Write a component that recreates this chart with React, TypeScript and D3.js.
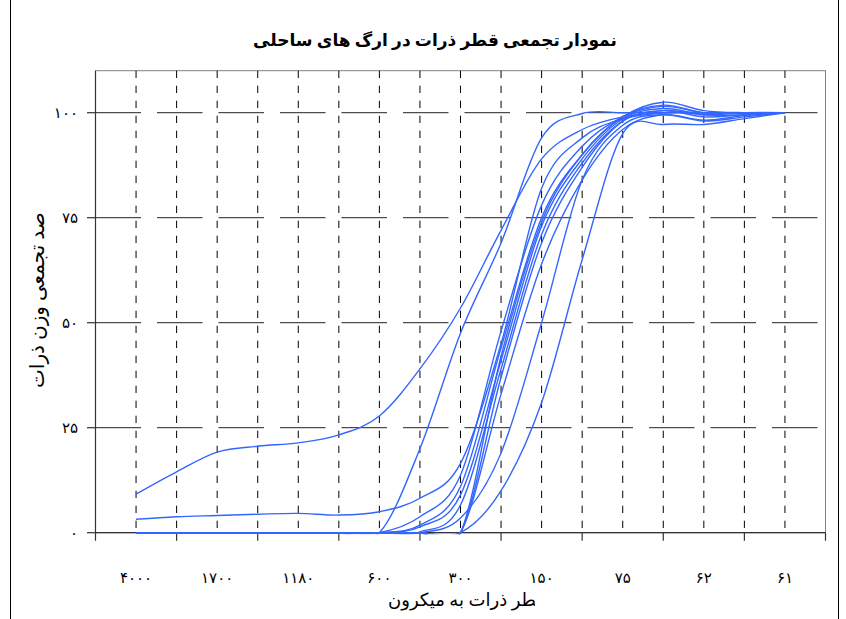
import React from 'react';
import * as d3 from 'd3';

// Category axis (sieve sizes, microns). Only every second label is shown in the chart.
const categories: string[] = ['۴۰۰۰', '', '۱۷۰۰', '', '۱۱۸۰', '', '۶۰۰', '', '۳۰۰', '', '۱۵۰', '', '۷۵', '', '۶۲', '', '۶۱'];
const yTickValues: number[] = [0, 25, 50, 75, 100];
const yTickLabels: string[] = ['۰', '۲۵', '۵۰', '۷۵', '۱۰۰'];

const title = 'نمودار تجمعی قطر ذرات در ارگ های ساحلی';
const xTitle = 'قطر ذرات به میکرون';
const yTitle = 'درصد تجمعی وزن ذرات';

// Cumulative weight percent per sample (one value per category)
const sampleA = [9.2, 14.5, 19.2, 20.6, 21.4, 23.3, 27.8, 39, 53.5, 72, 89, 96, 99, 100, 100, 100, 100];
const sampleB = [0, 0, 0, 0, 0, 0, 0, 20, 47.5, 69, 94, 99.8, 100, 100, 100, 100, 100];
const sampleC = [3.2, 3.8, 4.1, 4.4, 4.6, 4.2, 5, 8.2, 16.5, 45, 82, 94, 98.5, 100, 100, 100, 100];
const sampleD = [0, 0, 0, 0, 0, 0, 0, 3.8, 13.7, 48, 78, 92, 99, 101.5, 100, 100, 100];
const sampleE = [0, 0, 0, 0, 0, 0, 0, 1.8, 11, 44, 75, 90, 99, 102.5, 100.5, 100, 100];
const sampleF = [0, 0, 0, 0, 0, 0, 0, 1.4, 9, 41, 73, 89, 98.5, 101, 99.5, 99.5, 100];
const sampleG = [0, 0, 0, 0, 0, 0, 0, 0.2, 6.6, 39, 71, 88, 98, 100.5, 99, 99.5, 100];
const sampleH = [0, 0, 0, 0, 0, 0, 0, 0, 0, 42, 74, 90, 99, 101.8, 100, 100, 100];
const sampleI = [0, 0, 0, 0, 0, 0, 0, 0, 0, 37, 69, 87, 98, 100.5, 99.5, 100, 100];
const sampleJ = [0, 0, 0, 0, 0, 0, 0, 0, 0, 33, 64, 84, 96, 99.5, 98.2, 99.3, 100];
const sampleY = [0, 0, 0, 0, 0, 0, 0, 0, 3.5, 19, 50, 84, 97, 99.5, 98, 99, 100];
const sampleZ = [0, 0, 0, 0, 0, 0, 0, 0, 0, 10, 31, 65, 95, 97.2, 97.2, 98.6, 100];

const series = [sampleA, sampleB, sampleC, sampleD, sampleE, sampleF, sampleG, sampleH, sampleI, sampleJ, sampleY, sampleZ];

const W = 846;
const H = 619;
const PL = 95.5, PR = 825.5, PT = 70.7, PB = 532.7;
const FONT = "'Times New Roman', 'Liberation Serif', 'DejaVu Sans', serif";
const BLUE = '#3366FF';

export default function App() {
  const x = d3.scaleLinear().domain([0, categories.length + 1]).range([PL, PR]);
  const y = d3.scaleLinear().domain([0, 110]).range([PB, PT]);
  const line = d3
    .line<number>()
    .x((_, i) => x(i + 1))
    .y((v) => y(v))
    .curve(d3.curveCardinal.tension(0));

  const catIdx = categories.map((_, i) => i + 1);
  const majorTicks = d3.range(0, categories.length + 2, 2);

  return (
    <svg
      width={W}
      height={H}
      style={{ position: 'absolute', left: 0, top: 0, background: '#fff' }}
      fontFamily={FONT}
    >
      <defs>
        <clipPath id="plotClip">
          <rect x={PL} y={PT} width={PR - PL} height={PB - PT + 1.5} />
        </clipPath>
        <clipPath id="yTitleClip">
          <rect x={0} y={213} width={90} height={400} />
        </clipPath>
        <clipPath id="xTitleClip">
          <rect x={300} y={585} width={235} height={34} />
        </clipPath>
      </defs>
      <rect x={0} y={0} width={W} height={H} fill="#fff" />
      {/* chart area border */}
      <line x1={10.5} y1={0} x2={10.5} y2={H} stroke="#000" strokeWidth={1} />
      <line x1={838.5} y1={0} x2={838.5} y2={H} stroke="#000" strokeWidth={1} />

      <text x={435} y={46} textAnchor="middle" fontSize={17} fontWeight="bold" fill="#000">
        {title}
      </text>

      {/* plot area border */}
      <rect x={PL} y={PT} width={PR - PL} height={PB - PT} fill="none" stroke="#808080" strokeWidth={1} />

      {/* horizontal gridlines */}
      {yTickValues.filter((v) => v > 0).map((v) => (
        <line key={'h' + v} x1={PL} x2={PR} y1={y(v)} y2={y(v)} stroke="#222" strokeWidth={1} strokeDasharray="45.5 16" />
      ))}
      {/* vertical gridlines */}
      {catIdx.map((k) => (
        <line key={'v' + k} x1={x(k)} x2={x(k)} y1={PT} y2={PB} stroke="#000" strokeWidth={1} strokeDasharray="7.3 7.7" />
      ))}

      {/* axes */}
      <line x1={PL} x2={PL} y1={PT} y2={PB} stroke="#333" strokeWidth={1.2} />
      <line x1={PL} x2={PR} y1={PB} y2={PB} stroke="#333" strokeWidth={1.2} />
      {yTickValues.map((v, i) => (
        <g key={'yt' + v}>
          <line x1={PL - 8.5} x2={PL} y1={y(v)} y2={y(v)} stroke="#333" strokeWidth={1.2} />
          <text x={78} y={y(v)} dy="0.35em" textAnchor="end" fontSize={15} fill="#000">
            {yTickLabels[i]}
          </text>
        </g>
      ))}
      {majorTicks.map((t) => (
        <line key={'xt' + t} x1={x(t)} x2={x(t)} y1={PB} y2={PB + 8} stroke="#333" strokeWidth={1.2} />
      ))}
      {categories.map((c, i) =>
        c ? (
          <text key={'xl' + i} x={x(i + 1)} y={583} textAnchor="middle" fontSize={15} fill="#000">
            {c}
          </text>
        ) : null
      )}

      {/* series */}
      <g clipPath="url(#plotClip)">
        {series.map((s, i) => (
          <path key={'s' + i} d={line(s) || ''} fill="none" stroke={BLUE} strokeWidth={1.4} />
        ))}
      </g>

      {/* axis titles */}
      <g clipPath="url(#yTitleClip)">
        <text transform="translate(44,388) rotate(-90)" textAnchor="start" fontSize={20} fill="#000">
          {yTitle}
        </text>
      </g>
      <g clipPath="url(#xTitleClip)">
        <text x={545} y={606} textAnchor="end" fontSize={18} fill="#000">
          {xTitle}
        </text>
      </g>
    </svg>
  );
}
